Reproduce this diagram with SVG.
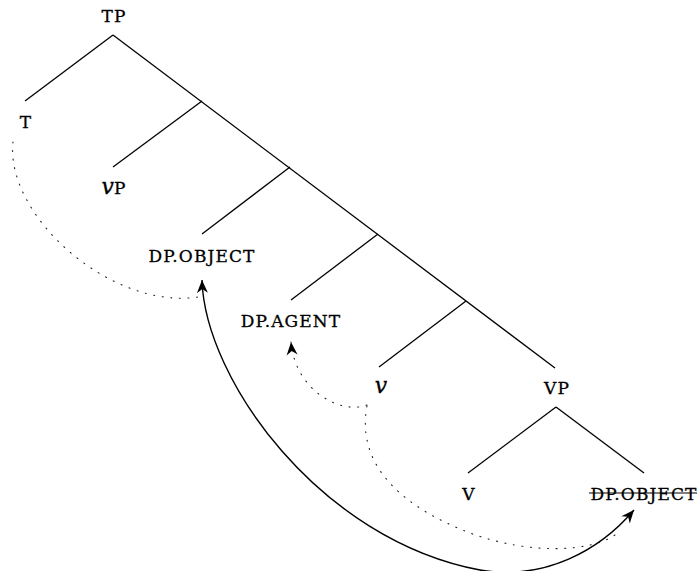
<svg xmlns="http://www.w3.org/2000/svg" width="698" height="571" viewBox="0 0 698 571">
<style>
.lbl{font-family:"DejaVu Serif","Liberation Serif",serif;font-size:17px;letter-spacing:1.1px;fill:#000;stroke:#000;stroke-width:0.3;text-anchor:middle}
.it{font-style:italic;font-size:22px;letter-spacing:0}
.br{stroke:#000;stroke-width:1.3;fill:none}
.dot{stroke:#222;stroke-width:1.1;fill:none;stroke-dasharray:1 7.6;stroke-linecap:round}
.mv{stroke:#000;stroke-width:1.4;fill:none}
</style>
<defs>
<marker id="ah" viewBox="-14 -7 16 14" markerWidth="16" markerHeight="14" refX="0" refY="0" orient="auto-start-reverse" markerUnits="userSpaceOnUse">
<path d="M0,0 L-13,-5.5 L-9,0 L-13,5.5 Z" fill="#000" stroke="none"/>
</marker>
</defs>
<g id="tree">
<line class="br" x1="113" y1="35" x2="25" y2="101"/>
<line class="br" x1="113" y1="35" x2="555" y2="368"/>
<line class="br" x1="202" y1="101" x2="113" y2="167"/>
<line class="br" x1="290" y1="167" x2="202" y2="234"/>
<line class="br" x1="378" y1="234" x2="291" y2="300"/>
<line class="br" x1="466" y1="301" x2="379" y2="367"/>
<line class="br" x1="556" y1="407" x2="468" y2="473"/>
<line class="br" x1="556" y1="407" x2="644" y2="473"/>
</g>
<g id="node-TP"><text class="lbl" x="114" y="22">TP</text></g>
<g id="node-T"><text class="lbl" x="26" y="128">T</text></g>
<g id="node-vP"><text class="lbl" x="114" y="194"><tspan class="it">v</tspan>P</text></g>
<g id="node-DPobj"><text class="lbl" x="202" y="262">DP.OBJECT</text></g>
<g id="node-DPagent"><text class="lbl" x="291" y="327">DP.AGENT</text></g>
<g id="node-v"><text class="lbl it" x="381" y="393">v</text></g>
<g id="node-VP"><text class="lbl" x="557" y="394">VP</text></g>
<g id="node-V"><text class="lbl" x="469" y="500">V</text></g>
<g id="node-DPobj-trace"><text class="lbl" x="644" y="500">DP.OBJECT</text><line x1="589" y1="493" x2="697" y2="493" stroke="#000" stroke-width="1.1"/></g>
<g id="connectors">
<path class="dot" d="M13,142 C5,215 110,310 198,297"/>
<path class="dot" d="M367,405 C340,415 295,390 291,342" marker-end="url(#ah)"/>
<path class="dot" d="M367,406 C355,470 410,510 470,533 C530,555 590,552 615,535"/>
<path class="mv" d="M202,280 C205,380 320,540 480,570 C545,581 600,550 634,510" marker-start="url(#ah)" marker-end="url(#ah)"/>
</g>
</svg>
